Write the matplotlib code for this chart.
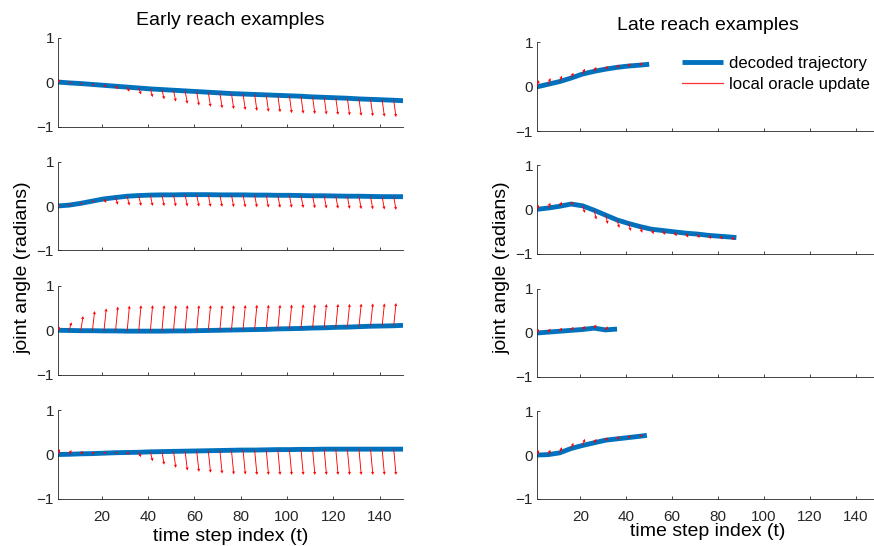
import matplotlib.pyplot as plt
from matplotlib.lines import Line2D
import numpy as np

plt.rcParams["font.family"] = ["Liberation Sans", "DejaVu Sans"]

# Decoded joint angle (radians), sampled every SAMPLE_STEP steps from t=1,
# with the last entry at the final time step of the reach.
SAMPLE_STEP = 5
ORACLE_DT = 1.0

early_end = [150, 150, 150, 150]
late_end = [50, 88, 36, 49]

early1_traj = [0.00, -0.02, -0.035, -0.055, -0.075, -0.095, -0.115, -0.135, -0.155, -0.17,
               -0.185, -0.20, -0.215, -0.23, -0.245, -0.26, -0.27, -0.28, -0.29, -0.30,
               -0.31, -0.32, -0.335, -0.345, -0.355, -0.365, -0.38, -0.39, -0.40, -0.41, -0.42]
early1_oracle = [0.05, 0.00, -0.04, -0.07, -0.11, -0.16, -0.22, -0.28, -0.34, -0.39,
                 -0.44, -0.49, -0.53, -0.56, -0.59, -0.61, -0.63, -0.65, -0.67, -0.68,
                 -0.70, -0.71, -0.72, -0.73, -0.74, -0.75, -0.76, -0.77, -0.78, -0.79]

early2_traj = [0.00, 0.02, 0.06, 0.11, 0.16, 0.19, 0.22, 0.235, 0.245, 0.25,
               0.25, 0.255, 0.255, 0.255, 0.25, 0.25, 0.25, 0.245, 0.245, 0.24,
               0.24, 0.235, 0.23, 0.23, 0.225, 0.22, 0.22, 0.215, 0.21, 0.21, 0.21]
early2_oracle = [0.01, 0.03, 0.06, 0.10, 0.07, 0.03, 0.01, 0.00, 0.00, -0.005,
                 -0.01, -0.01, -0.015, -0.02, -0.02, -0.025, -0.03, -0.03, -0.035, -0.04,
                 -0.04, -0.045, -0.05, -0.055, -0.06, -0.065, -0.07, -0.075, -0.08, -0.09]

early3_traj = [0.00, -0.005, -0.01, -0.01, -0.015, -0.015, -0.02, -0.02, -0.02, -0.02,
               -0.015, -0.015, -0.01, -0.005, 0.00, 0.005, 0.01, 0.015, 0.02, 0.03,
               0.035, 0.04, 0.05, 0.055, 0.065, 0.07, 0.08, 0.09, 0.095, 0.10, 0.11]
early3_oracle = [0.08, 0.18, 0.32, 0.43, 0.49, 0.53, 0.55, 0.56, 0.56, 0.56,
                 0.56, 0.56, 0.56, 0.56, 0.56, 0.56, 0.565, 0.57, 0.57, 0.57,
                 0.575, 0.58, 0.58, 0.585, 0.59, 0.59, 0.595, 0.60, 0.60, 0.61]

early4_traj = [0.00, 0.005, 0.015, 0.02, 0.03, 0.04, 0.045, 0.05, 0.06, 0.065,
               0.07, 0.075, 0.08, 0.085, 0.09, 0.095, 0.10, 0.10, 0.105, 0.11,
               0.11, 0.115, 0.115, 0.12, 0.12, 0.12, 0.12, 0.12, 0.12, 0.12, 0.12]
early4_oracle = [0.12, 0.10, 0.08, 0.06, 0.05, 0.04, 0.00, -0.06, -0.15, -0.23,
                 -0.30, -0.36, -0.39, -0.41, -0.43, -0.45, -0.45, -0.46, -0.46, -0.46,
                 -0.46, -0.46, -0.46, -0.46, -0.46, -0.46, -0.46, -0.46, -0.46, -0.46]

late1_traj = [0.00, 0.06, 0.12, 0.20, 0.29, 0.35, 0.40, 0.44, 0.47, 0.49, 0.51]
late1_oracle = [0.15, 0.20, 0.25, 0.32, 0.41, 0.45, 0.47, 0.50, 0.53, 0.55]

late2_traj = [0.00, 0.03, 0.07, 0.12, 0.08, -0.02, -0.13, -0.24, -0.32, -0.39,
              -0.45, -0.48, -0.51, -0.54, -0.56, -0.59, -0.61, -0.63, -0.64]
late2_oracle = [0.10, 0.15, 0.17, 0.17, -0.08, -0.23, -0.33, -0.42, -0.49, -0.53,
                -0.56, -0.58, -0.61, -0.64, -0.65, -0.67, -0.68, -0.70]

late3_traj = [0.00, 0.02, 0.04, 0.06, 0.08, 0.11, 0.07, 0.09]
late3_oracle = [0.09, 0.10, 0.12, 0.14, 0.16, 0.19, 0.15]

late4_traj = [0.00, 0.01, 0.05, 0.15, 0.22, 0.28, 0.34, 0.37, 0.40, 0.43, 0.45]
late4_oracle = [0.11, 0.12, 0.18, 0.28, 0.37, 0.37, 0.40, 0.43, 0.45, 0.47]

early_traj = [early1_traj, early2_traj, early3_traj, early4_traj]
early_oracle = [early1_oracle, early2_oracle, early3_oracle, early4_oracle]
late_traj = [late1_traj, late2_traj, late3_traj, late4_traj]
late_oracle = [late1_oracle, late2_oracle, late3_oracle, late4_oracle]

x_ticks = [20, 40, 60, 80, 100, 120, 140]
y_ticks = [-1, 0, 1]

BLUE = "#0072BD"
AXIS_GRAY = "#262626"

W, H = 874, 546
fig = plt.figure(figsize=(W / 100, H / 100), dpi=100)


def add_axes_px(x0, x1, y0, y1):
    return fig.add_axes([x0 / W, 1 - y1 / H, (x1 - x0) / W, (y1 - y0) / H])


def style_axes(ax, show_xlabels):
    ax.set_xlim(1, 150)
    ax.set_ylim(-1, 1)
    ax.set_xticks(x_ticks)
    ax.set_yticks(y_ticks)
    for side in ("top", "right"):
        ax.spines[side].set_visible(False)
    for side in ("left", "bottom"):
        ax.spines[side].set_color(AXIS_GRAY)
        ax.spines[side].set_linewidth(0.6)
    ax.tick_params(direction="in", length=2.5, width=0.6, color=AXIS_GRAY,
                   labelcolor=AXIS_GRAY, labelsize=11)
    ax.tick_params(axis="x", pad=8)
    ax.tick_params(axis="y", pad=2.6)
    if not show_xlabels:
        ax.set_xticklabels([])


def draw_reach(ax, end, traj, oracle):
    t_arrow = np.arange(1, end, SAMPLE_STEP)
    t_line = np.append(t_arrow, end)
    traj = np.asarray(traj, dtype=float)
    oracle = np.asarray(oracle, dtype=float)
    base = traj[:len(t_arrow)]

    ax.plot(t_line, traj, color=BLUE, linewidth=3.5, solid_capstyle="butt",
            solid_joinstyle="round", zorder=2)
    ax.quiver(t_arrow, base, np.full(len(t_arrow), ORACLE_DT), oracle - base,
              angles="xy", scale_units="xy", scale=1, units="dots", width=0.9,
              headwidth=3.6, headlength=3.6, headaxislength=3.2,
              color="red", zorder=3)


left_rows = [(37.5, 126.5), (161.5, 250.5), (285.5, 375.0), (410.0, 499.0)]
right_rows = [(42.5, 131.3), (165.2, 253.5), (289.0, 377.0), (411.3, 498.8)]
left_x = (57.6, 403.0)
right_x = (536.7, 878.7)

left_axes = []
for i, (y0, y1) in enumerate(left_rows):
    ax = add_axes_px(left_x[0], left_x[1], y0, y1)
    style_axes(ax, show_xlabels=(i == 3))
    draw_reach(ax, early_end[i], early_traj[i], early_oracle[i])
    left_axes.append(ax)

right_axes = []
for i, (y0, y1) in enumerate(right_rows):
    ax = add_axes_px(right_x[0], right_x[1], y0, y1)
    style_axes(ax, show_xlabels=(i == 3))
    draw_reach(ax, late_end[i], late_traj[i], late_oracle[i])
    right_axes.append(ax)

left_axes[0].set_title("Early reach examples", fontsize=14, pad=9)
right_axes[0].set_title("Late reach examples", fontsize=14, pad=9)
left_axes[3].set_xlabel("time step index (t)", fontsize=14, labelpad=3)
right_axes[3].set_xlabel("time step index (t)", fontsize=14, labelpad=-1)

fig.text(23 / W, 1 - 268 / H, "joint angle (radians)", rotation=90,
         ha="center", va="center", fontsize=14)
fig.text(502 / W, 1 - 268 / H, "joint angle (radians)", rotation=90,
         ha="center", va="center", fontsize=14)

handles = [Line2D([], [], color=BLUE, linewidth=3.5, solid_capstyle="butt"),
           Line2D([], [], color="#ff3030", linewidth=0.9)]
fig.legend(handles, ["decoded trajectory", "local oracle update"],
           loc="upper left", bbox_to_anchor=(681.7 / W, 1 - 56 / H),
           frameon=False, fontsize=12, handlelength=2.5, handletextpad=0.35,
           borderpad=0, borderaxespad=0, labelspacing=0.33)

fig.savefig("out.png", dpi=100)
